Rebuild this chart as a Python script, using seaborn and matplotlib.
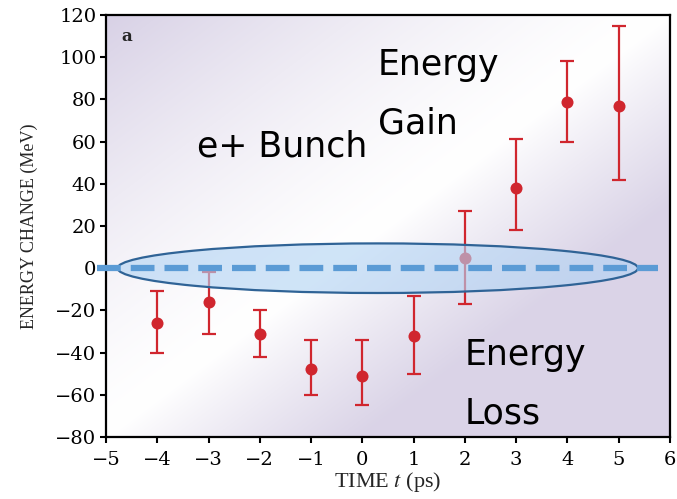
import numpy as np
import pandas as pd
import matplotlib
matplotlib.use("Agg")
import matplotlib.pyplot as plt
import seaborn as sns
from matplotlib.patches import Ellipse

# ---- data ----
time_ps = [-4, -3, -2, -1, 0, 1, 2, 3, 4, 5]
energy_change = [-26, -16, -31, -48, -51, -32, 5, 38, 79, 77]
err_low = [-40, -31, -42, -60, -65, -50, -17, 18, 60, 42]
err_high = [-11, -2, -20, -34, -34, -13, 27, 61, 98, 115]

x_ticks = [-5, -4, -3, -2, -1, 0, 1, 2, 3, 4, 5, 6]
y_ticks = [-80, -60, -40, -20, 0, 20, 40, 60, 80, 100, 120]

df = pd.DataFrame({"time": time_ps, "dE": energy_change,
                   "lo": err_low, "hi": err_high})

sns.set_theme(style="ticks")
plt.rcParams["font.family"] = ["DejaVu Serif"]
plt.rcParams["mathtext.fontset"] = "stix"

fig = plt.figure(figsize=(6.77, 4.99), dpi=100)
ax = fig.add_axes([106/677, 1-437/499, 564/677, 422/499])
ax.set_xlim(-5, 6)
ax.set_ylim(-80, 120)

# background: white diagonal band, lavender away from it
n = 400
u, v = np.meshgrid(np.linspace(0, 1, n), np.linspace(0, 1, n))
d = v - u
f = np.where(d > 0, np.clip(d, 0, 1) ** 1.4 * 0.9,
             np.clip(-d / 0.45, 0, 1) ** 0.9 * 0.85)
white = np.array([1.0, 1.0, 1.0])
lav = np.array([0.83, 0.80, 0.89])
img = white[None, None, :] * (1 - f[..., None]) + lav[None, None, :] * f[..., None]
ax.imshow(img, origin="lower", extent=(-5, 6, -80, 120), aspect="auto",
          zorder=0, interpolation="bilinear")

red = "#d0262e"
yerr = np.array([df["dE"] - df["lo"], df["hi"] - df["dE"]])
ax.errorbar(df["time"], df["dE"], yerr=yerr, fmt="none", ecolor=red,
            elinewidth=1.6, capsize=5, capthick=1.6, zorder=3)
sns.scatterplot(data=df, x="time", y="dE", ax=ax, color=red, s=75,
                edgecolor=red, linewidth=0, zorder=4, legend=False)

# bunch ellipse
ell = Ellipse((0.3, 0), width=10.15, height=23.5, facecolor="#b3d4f4",
              edgecolor="none", alpha=0.62, zorder=5)
ax.add_patch(ell)
ell2 = Ellipse((0.3, 0), width=10.15, height=23.5, facecolor="none",
               edgecolor="#2f6396", linewidth=1.6, zorder=6)
ax.add_patch(ell2)
ax.plot([-5.18, 5.77], [0, 0], color="#5b9bd5", lw=4.5,
        dashes=(3.8, 1.6), solid_capstyle="butt", dash_capstyle="butt",
        zorder=7, clip_on=False)

# annotations
ann = dict(family="DejaVu Sans", fontsize=25, color="black", zorder=8)
ax.text(-3.22, 53, "e+ Bunch", ha="left", va="baseline", **ann)
ax.text(0.3, 91.5, "Energy", ha="left", va="baseline", **ann)
ax.text(0.3, 64, "Gain", ha="left", va="baseline", **ann)
ax.text(2.0, -46, "Energy", ha="left", va="baseline", **ann)
ax.text(2.0, -73.5, "Loss", ha="left", va="baseline", **ann)
ax.text(-4.7, 110, "a", ha="left", va="center", fontsize=12,
        fontweight="bold", family="DejaVu Serif", zorder=8)

ax.set_xticks(x_ticks)
ax.set_yticks(y_ticks)
ax.tick_params(axis="both", direction="out", length=4, width=1.5,
               labelsize=14, colors="black")
ax.tick_params(axis="x", pad=6)
ax.tick_params(axis="y", pad=3)
for s in ax.spines.values():
    s.set_linewidth(1.6)
    s.set_color("black")

ax.set_xlabel("TIME $t$ (ps)", family="Liberation Serif", fontsize=16,
              labelpad=1)
ax.set_ylabel("ENERGY CHANGE (MeV)", family="Liberation Serif", fontsize=13,
              labelpad=12)

fig.savefig("out.png", dpi=100)
